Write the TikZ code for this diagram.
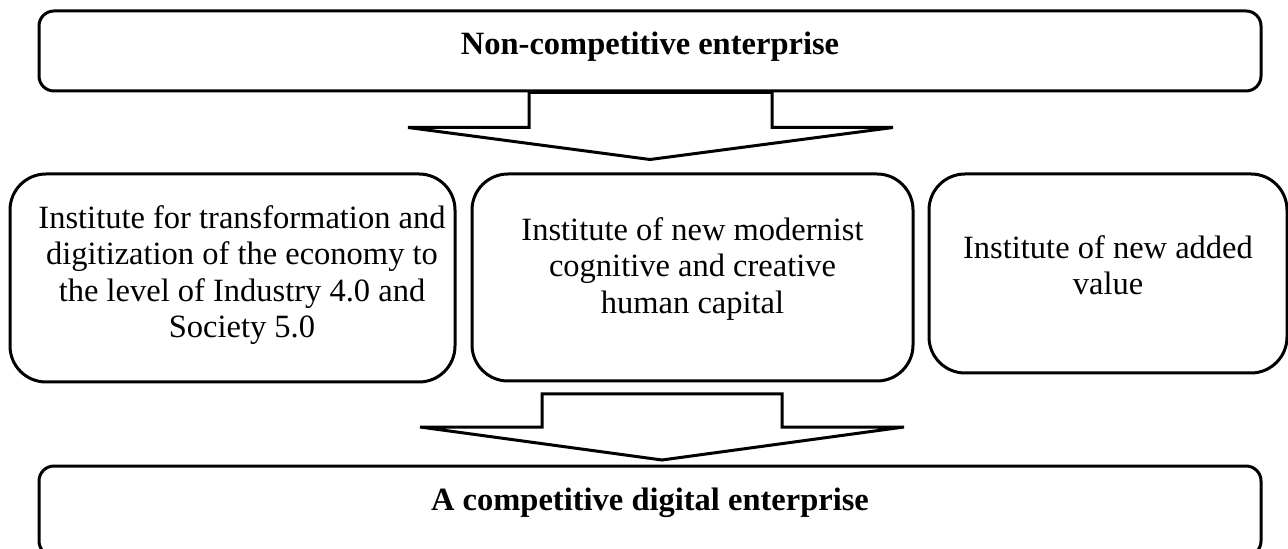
\documentclass[tikz,border=0pt]{standalone}
\usepackage{fontspec}
\setmainfont{Liberation Serif}

\begin{document}
\begin{tikzpicture}[x=0.5pt, y=-0.5pt,
    enterprise/.style ={rectangle, draw, line width=1.5pt, rounded corners=7.5pt, minimum width=611pt, minimum height=40pt, inner sep=0pt},
    institute/.style ={rectangle, draw, line width=1.5pt, rounded corners=18pt, inner sep=0pt},
    headtext/.style ={font=\fontsize{16.25pt}{18.25pt}\selectfont\bfseries, inner sep=0pt, anchor=base},
    boxtext/.style ={font=\fontsize{16.25pt}{18.25pt}\selectfont, align=center, inner sep=0pt, anchor=north},
    blockarrow/.style ={draw, fill=white, line width=1.5pt, line join=miter}]
   \useasboundingbox (0,0) rectangle (1288,549);
   \node[enterprise] (top) at (650,51) {};
   \node[headtext] (toptext) at (650,55) {Non-competitive enterprise};
   \node[institute, minimum width=222.5pt, minimum height=104pt] (inst1) at (232.5,278) {};
   \node[institute, minimum width=220.5pt, minimum height=103.5pt] (inst2) at (692.5,277.5) {};
   \node[institute, minimum width=179pt, minimum height=99.5pt] (inst3) at (1108,273.5) {};
   \node[boxtext] (inst1text) at (242,205) {Institute for transformation and\\ digitization of the economy to\\ the level of Industry 4.0 and\\ Society 5.0};
   \node[boxtext] (inst2text) at (692.5,217) {Institute of new modernist\\ cognitive and creative\\ human capital};
   \node[boxtext] (inst3text) at (1108,235) {Institute of new added\\ value};
   \node[enterprise, minimum height=45pt] (bottom) at (650,511) {};
   \node[headtext] (bottomtext) at (650,510) {A competitive digital enterprise};
   \coordinate (stem2) at (662,394);
   \draw[blockarrow] (top.south) ++(-121,0) -- ++(0,35) -- ++(-121,0) -- ++(242,32) -- ++(243,-32) -- ++(-121,0) -- ++(0,-35) -- cycle;
   \draw[blockarrow] (stem2) ++(-120,0) -- ++(0,33) -- ++(-122,0) -- ++(242,33) -- ++(242,-33) -- ++(-122,0) -- ++(0,-33) -- cycle;
 \end{tikzpicture}
\end{document}
